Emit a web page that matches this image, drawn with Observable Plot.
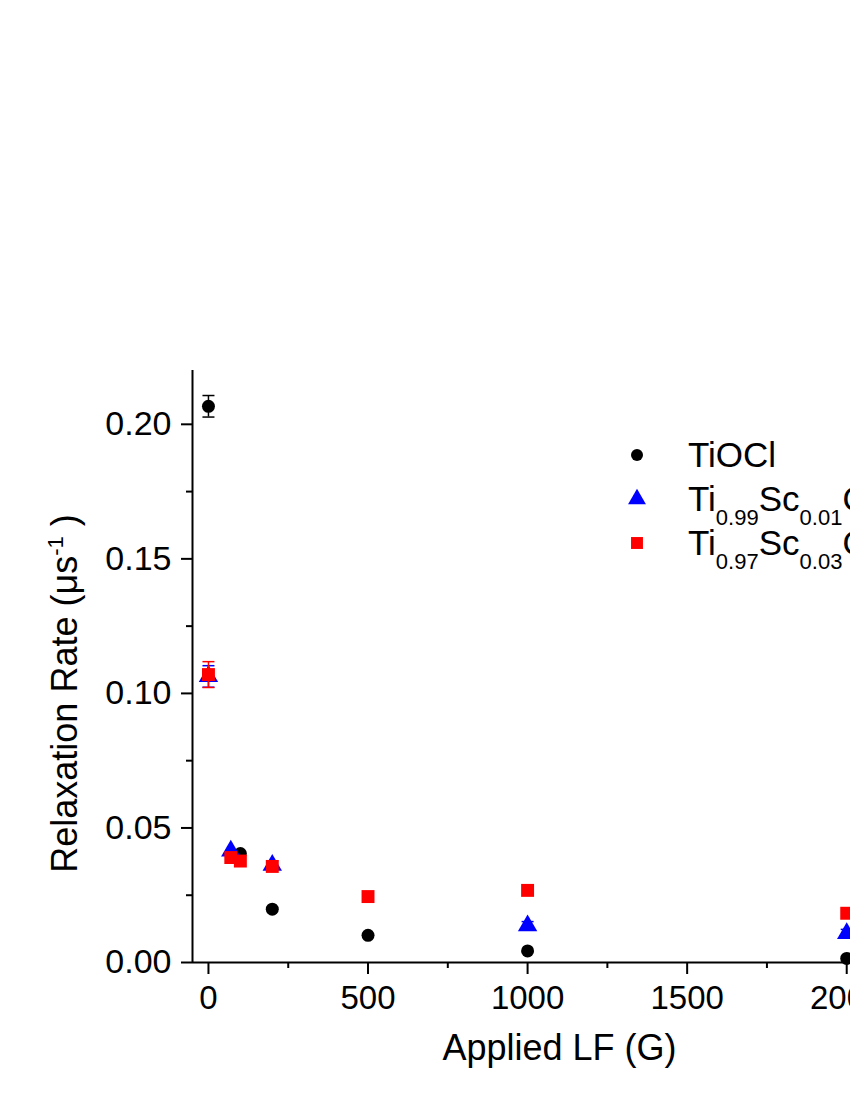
<!DOCTYPE html>
<html><head><meta charset="utf-8">
<script src="https://cdn.jsdelivr.net/npm/d3@7"></script>
<script src="https://cdn.jsdelivr.net/npm/@observablehq/plot@0.6"></script>
<style>body{margin:0;background:#fff} #wrap{position:relative;width:850px;height:1100px;overflow:hidden} #wrap svg{max-width:none !important;width:1100px;height:1100px}</style>
</head><body><div id="wrap"></div>
<script>
const fieldTiOCl = [0, 100, 200, 500, 1000, 2000];
const rateTiOCl  = [0.2067, 0.0405, 0.0198, 0.0101, 0.0043, 0.0015];
const errTiOCl   = [0.0040, 0, 0, 0, 0, 0];
const fieldSc01 = [0, 70, 200, 1000, 2000];
const rateSc01  = [0.1063, 0.0415, 0.0362, 0.0137, 0.0108];
const errSc01   = [0.0040, 0, 0.0015, 0.0015, 0.0015];
const fieldSc03 = [0, 70, 100, 200, 500, 1000, 2000];
const rateSc03  = [0.1070, 0.0390, 0.0377, 0.0357, 0.0245, 0.0268, 0.0183];
const errSc03   = [0.0048, 0, 0, 0, 0, 0, 0];
const seriesLegend = [
  [["TiOCl", null]],
  [["Ti", "0.99"], ["Sc", "0.01"], ["OCl", null]],
  [["Ti", "0.97"], ["Sc", "0.03"], ["OCl", null]]
];
const seriesColors = ["#000000", "#0000ff", "#ff0000"];
const seriesSymbols = ["circle", "triangle", "square"];
const seriesR = [6.5, 7.2, 7.3];
const xTicks = [0, 500, 1000, 1500, 2000];
const xMinor = [250, 750, 1250, 1750, 2250];
const yTicks = [0, 0.05, 0.10, 0.15, 0.20];
const yMinor = [0.025, 0.075, 0.125, 0.175];
const xLabel = "Applied LF (G)";
const yLabel = "Relaxation Rate (μs";

const mk = (xs, ys, es) => xs.map((x, i) => ({x, y: ys[i], e: es[i]}));
const series = [mk(fieldTiOCl, rateTiOCl, errTiOCl), mk(fieldSc01, rateSc01, errSc01), mk(fieldSc03, rateSc03, errSc03)];

const cap = {draw(ctx) { ctx.moveTo(-6, 0); ctx.lineTo(6, 0); }};

const marks = [];
series.forEach((s, i) => {
  const withErr = s.filter(d => d.e > 0);
  marks.push(
    Plot.ruleX(withErr, {x: "x", y1: d => d.y - d.e, y2: d => d.y + d.e, stroke: seriesColors[i], strokeWidth: 1.5}),
    Plot.dot(withErr, {x: "x", y: d => d.y + d.e, symbol: cap, fill: "none", stroke: seriesColors[i], strokeWidth: 1.5, r: 4}),
    Plot.dot(withErr, {x: "x", y: d => d.y - d.e, symbol: cap, fill: "none", stroke: seriesColors[i], strokeWidth: 1.5, r: 4}),
    Plot.dot(s, {x: "x", y: "y", symbol: seriesSymbols[i], fill: seriesColors[i], r: seriesR[i], stroke: "none"})
  );
});

const chart = Plot.plot({
  width: 1100, height: 1100,
  marginLeft: 192, marginRight: 174, marginTop: 370, marginBottom: 138,
  style: {fontFamily: "Liberation Sans, Arial, sans-serif", color: "#000", background: "#fff", maxWidth: "none"},
  x: {domain: [-50, 2250]},
  y: {domain: [0, 0.22]},
  marks: [
    Plot.axisY(yTicks, {tickSize: 11, tickPadding: 10, tickFormat: d3.format(".2f"), fontSize: 34, strokeWidth: 2, label: null}),
    Plot.axisY(yMinor, {tickSize: 6, tickFormat: () => "", strokeWidth: 2, label: null}),
    Plot.axisX(xTicks, {tickSize: 12, tickPadding: 11, tickFormat: d3.format("d"), fontSize: 33, strokeWidth: 2, label: null}),
    Plot.axisX(xMinor, {tickSize: 6, tickFormat: () => "", strokeWidth: 2, label: null}),
    Plot.ruleX([-50], {strokeWidth: 2}),
    Plot.ruleY([0], {strokeWidth: 2}),
    ...marks,
    Plot.text([xLabel], {frameAnchor: "bottom", dy: 86, fontSize: 36, lineAnchor: "middle"}),
    Plot.text([yLabel], {frameAnchor: "left", dx: -127, dy: 27, rotate: -90, fontSize: 36, textAnchor: "middle", lineAnchor: "middle"})
  ]
});
document.getElementById("wrap").appendChild(chart);

const svg = d3.select(chart);
// drop empty minor-tick labels
svg.selectAll("text").filter(function() { return this.textContent === ""; }).remove();
// superscript for the y label
const yl = svg.selectAll("text").filter(function() { return this.textContent === yLabel; });
yl.text(null);
yl.append("tspan").text(yLabel);
yl.append("tspan").attr("font-size", 22).attr("dy", -14).text("-1");
yl.append("tspan").attr("dy", 14).text(" )");

// legend
const lg = svg.append("g").attr("font-size", 35).attr("text-anchor", "start")
  .attr("font-family", "Liberation Sans, Arial, sans-serif").attr("fill", "#000");
const rowY = [455, 499, 543];
const symType = {circle: d3.symbolCircle, triangle: d3.symbolTriangle, square: d3.symbolSquare};
seriesLegend.forEach((row, i) => {
  lg.append("path")
    .attr("transform", `translate(637,${rowY[i]})`)
    .attr("d", d3.symbol(symType[seriesSymbols[i]], Math.PI * seriesR[i] * seriesR[i] * 0.85)())
    .attr("fill", seriesColors[i]);
  const t = lg.append("text").attr("x", 688).attr("y", rowY[i] + 12);
  let shift = 0;
  row.forEach(([base, sub]) => {
    const b = t.append("tspan").text(base);
    if (shift) { b.attr("dy", -shift); shift = 0; }
    if (sub) {
      t.append("tspan").attr("font-size", 22).attr("dy", 14).text(sub);
      shift = 14;
    }
  });
});
</script></body></html>
